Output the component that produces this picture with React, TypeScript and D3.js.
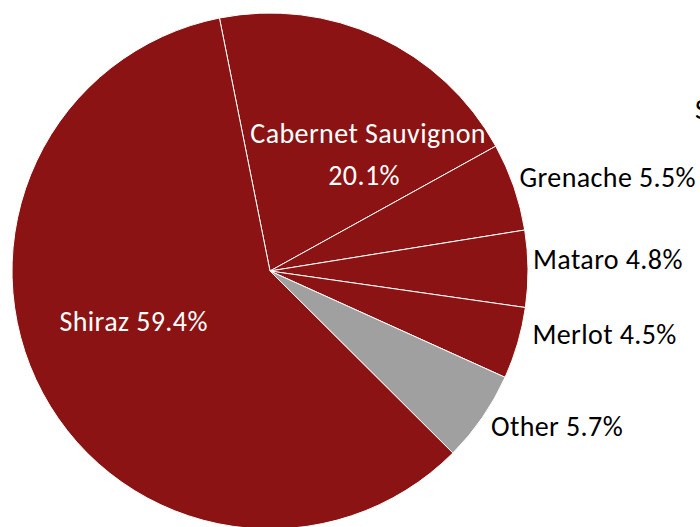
import React from "react";
import * as d3 from "d3";

const categories = ["Cabernet Sauvignon", "Grenache", "Mataro", "Merlot", "Other", "Shiraz"];
const values = [20.1, 5.5, 4.8, 4.5, 5.7, 59.4];
const colors = ["#8B1313", "#8B1313", "#8B1313", "#8B1313", "#A0A0A0", "#8B1313"];

const W = 700;
const H = 527;
const CX = 270;
const CY = 271;
const R = 258;
const START = (-11.3 * Math.PI) / 180;
const FONT = "Carlito, Calibri, Lato, 'Noto Sans', sans-serif";
const FS = 28;
const LS = 0.4;

// label layout: inside labels use offsets from centroid, outside from outer point
const labelLayout = [
  { inside: true, dx: 33, dy: 12, lines: 2 },
  { inside: false, dx: -2, dy: 3 },
  { inside: false, dx: -3, dy: 0 },
  { inside: false, dx: 7, dy: -1 },
  { inside: false, dx: 2, dy: 14 },
  { inside: true, dx: 0, dy: -13, lines: 1 },
];

export default function App() {
  const pie = d3
    .pie<number>()
    .sort(null)
    .startAngle(START)
    .endAngle(START + 2 * Math.PI)
    .value((d) => d);
  const arcs = pie(values);
  const arc = d3.arc<d3.PieArcDatum<number>>().innerRadius(0).outerRadius(R);
  const labelArc = d3.arc<d3.PieArcDatum<number>>().innerRadius(R * 0.6).outerRadius(R * 0.6);
  const outerArc = d3.arc<d3.PieArcDatum<number>>().innerRadius(R + 8).outerRadius(R + 8);

  return (
    <svg
      width={W}
      height={H}
      style={{ position: "absolute", left: 0, top: 0, background: "#fff" }}
    >
      <g transform={`translate(${CX},${CY})`}>
        {arcs.map((a, i) => (
          <path key={i} d={arc(a) || ""} fill={colors[i]} stroke="#fff" strokeWidth={1} />
        ))}
        {arcs.map((a, i) => {
          const L = labelLayout[i];
          const pct = `${values[i].toFixed(1)}%`;
          if (L.inside) {
            const [x, y] = labelArc.centroid(a);
            if (L.lines === 2) {
              return (
                <text key={i} fill="#fff" fontFamily={FONT} fontSize={FS} letterSpacing={LS} textAnchor="middle">
                  <tspan x={x + L.dx} y={y + L.dy}>{categories[i]}</tspan>
                  <tspan x={x + L.dx - 4} y={y + L.dy + 42}>{pct}</tspan>
                </text>
              );
            }
            return (
              <text key={i} x={x + L.dx} y={y + L.dy} fill="#fff" fontFamily={FONT} fontSize={FS} letterSpacing={LS} textAnchor="middle">
                {`${categories[i]} ${pct}`}
              </text>
            );
          }
          const [ox, oy] = outerArc.centroid(a);
          return (
            <text key={i} x={ox + L.dx} y={oy + L.dy} fill="#000" fontFamily={FONT} fontSize={FS} letterSpacing={LS} textAnchor="start">
              {`${categories[i]} ${pct}`}
            </text>
          );
        })}
      </g>
      <text x={695} y={119} fill="#000" fontFamily={FONT} fontSize={FS}>S</text>
    </svg>
  );
}
